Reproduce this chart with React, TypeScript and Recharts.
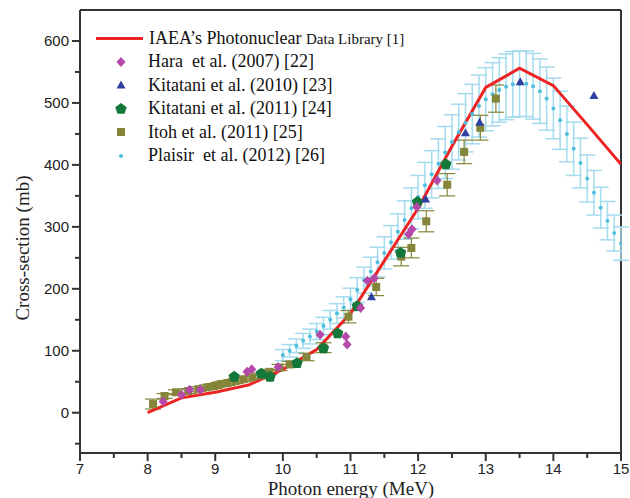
import {
  ComposedChart,
  Line,
  Scatter,
  ErrorBar,
  XAxis,
  YAxis,
  ReferenceLine,
} from "recharts";

// IAEA evaluated curve
const iaeaE = [8, 8.5, 9, 9.5, 10, 10.5, 11, 11.5, 12, 12.5, 13, 13.5, 14, 14.5, 15];
const iaeaXS = [0, 24, 33, 45, 70, 102, 160, 245, 330, 430, 525, 556, 528, 465, 401];

// Hara et al. (2007)
const haraE = [8.23, 8.5, 8.62, 8.78, 9.47, 9.54, 9.93, 10.55, 10.93, 10.95, 11.15, 11.25, 11.35, 11.86, 11.91, 11.98, 12.28];
const haraXS = [18, 29, 37, 37, 66, 70, 74, 126, 123, 110, 169, 213, 217, 288, 296, 332, 375];

// Kitatani et al. (2010)
const kit10E = [11.31, 12.11, 12.7, 12.91, 13.51, 14.6];
const kit10XS = [187, 345, 452, 469, 534, 512];

// Kitatani et al. (2011)
const kit11E = [9.28, 9.68, 9.81, 10.21, 10.6, 10.81, 11.1, 11.74, 11.99, 12.41];
const kit11XS = [58, 63, 58, 80, 104, 128, 172, 258, 340, 401];

// Itoh et al. (2011)
const itohE = [8.08, 8.25, 8.42, 8.6, 8.75, 8.88, 8.98, 9.08, 9.18, 9.3, 9.42, 9.55, 9.68, 9.8, 9.95, 10.1, 10.35, 10.6, 10.97, 11.38, 11.75, 11.9, 12.12, 12.43, 12.68, 12.92, 13.15];
const itohXS = [14, 27, 33, 35, 38, 41, 43, 46, 48, 51, 54, 57, 60, 66, 73, 78, 90, 105, 155, 203, 252, 266, 309, 368, 421, 460, 507];
const itohErr = [8, 4, 4, 4, 4, 4, 4, 4, 4, 4, 4, 4, 4, 4, 5, 5, 6, 8, 10, 14, 15, 16, 17, 18, 19, 20, 22];

// Plaisir et al. (2012)
const plaisirE = [
  10.0, 10.1, 10.2, 10.3, 10.4, 10.5, 10.6, 10.7, 10.8, 10.9,
  11.0, 11.1, 11.2, 11.3, 11.4, 11.5, 11.6, 11.7, 11.8, 11.9,
  12.0, 12.1, 12.2, 12.3, 12.4, 12.5, 12.6, 12.7, 12.8, 12.9,
  13.0, 13.1, 13.2, 13.3, 13.4, 13.5, 13.6, 13.7, 13.8, 13.9,
  14.0, 14.1, 14.2, 14.3, 14.4, 14.5, 14.6, 14.7, 14.8, 14.9, 15.0,
];
const plaisirXS = [
  93, 100, 108, 116, 123, 131, 140, 150, 160, 170,
  183, 198, 214, 228, 243, 258, 275, 292, 311, 330,
  348, 367, 385, 402, 420, 437, 453, 468, 482, 495,
  506, 514, 521, 526, 530, 531, 531, 527, 519, 507,
  491, 472, 450, 426, 403, 378, 355, 331, 310, 290, 273,
];
const plaisirErr = [
  9, 10, 11, 12, 12, 13, 14, 15, 16, 17,
  18, 20, 21, 23, 24, 26, 27, 29, 31, 33,
  35, 37, 38, 40, 42, 44, 45, 47, 48, 50,
  51, 51, 52, 53, 53, 53, 53, 53, 52, 51,
  49, 47, 45, 43, 40, 38, 36, 33, 31, 29, 27,
];

const xTicks = [7, 7.5, 8, 8.5, 9, 9.5, 10, 10.5, 11, 11.5, 12, 12.5, 13, 13.5, 14, 14.5, 15];
const yTicks = [-50, 0, 50, 100, 150, 200, 250, 300, 350, 400, 450, 500, 550, 600];

const zip = (xs: number[], ys: number[], errs?: number[]) =>
  xs.map((x, i) => ({ x, y: ys[i], err: errs ? errs[i] : 0 }));

const iaea = zip(iaeaE, iaeaXS);
const hara = zip(haraE, haraXS);
const kit10 = zip(kit10E, kit10XS);
const kit11 = zip(kit11E, kit11XS);
const itoh = zip(itohE, itohXS, itohErr);
const plaisir = zip(plaisirE, plaisirXS, plaisirErr);

const RED = "#ec2424";
const MAGENTA = "#b548a8";
const BLUE = "#2f40a0";
const GREEN = "#13783a";
const OLIVE = "#85853a";
const CYAN = "#4cbfdc";
const CYAN_BAR = "#a4dbee";
const AXIS = "#333";
const serif = "Liberation Serif";
const sans = "Liberation Sans";

const Diamond = ({ cx, cy }: any) => (
  <polygon points={`${cx},${cy - 5} ${cx + 4.5},${cy} ${cx},${cy + 5} ${cx - 4.5},${cy}`} fill={MAGENTA} />
);
const Triangle = ({ cx, cy }: any) => (
  <polygon points={`${cx},${cy - 4.5} ${cx + 4.5},${cy + 3.5} ${cx - 4.5},${cy + 3.5}`} fill={BLUE} />
);
const Pentagon = ({ cx, cy }: any) => {
  const pts = [0, 1, 2, 3, 4]
    .map((k) => {
      const a = -Math.PI / 2 + (k * 2 * Math.PI) / 5;
      return `${cx + 6 * Math.cos(a)},${cy + 6 * Math.sin(a)}`;
    })
    .join(" ");
  return <polygon points={pts} fill={GREEN} />;
};
const Square = ({ cx, cy }: any) => <rect x={cx - 4} y={cy - 4} width={8} height={8} fill={OLIVE} />;
const Dot = ({ cx, cy }: any) => <circle cx={cx} cy={cy} r={2} fill={CYAN} />;

const XTick = ({ x, y, payload }: any) => {
  const major = Number.isInteger(payload.value);
  return (
    <g>
      <line x1={x} y1={y} x2={x} y2={y + (major ? 8 : 5)} stroke={AXIS} strokeWidth={2} />
      {major && (
        <text x={x} y={y + 21} textAnchor="middle" style={{ fontFamily: sans, fontSize: 15 }} fill="#222">
          {payload.value}
        </text>
      )}
    </g>
  );
};

const YTick = ({ x, y, payload }: any) => {
  const major = payload.value % 100 === 0;
  return (
    <g>
      <line x1={x} y1={y} x2={x - (major ? 8 : 5)} y2={y} stroke={AXIS} strokeWidth={2} />
      {major && (
        <text x={x - 11} y={y} dy="0.36em" textAnchor="end" style={{ fontFamily: sans, fontSize: 15 }} fill="#222">
          {payload.value}
        </text>
      )}
    </g>
  );
};

const legendRows = [
  { label: "Hara  et al. (2007) [22]", shape: <Diamond cx={10} cy={10} /> },
  { label: "Kitatani et al. (2010) [23]", shape: <Triangle cx={10} cy={10} /> },
  { label: "Kitatani et al. (2011) [24]", shape: <Pentagon cx={10} cy={10} /> },
  { label: "Itoh et al. (2011) [25]", shape: <Square cx={10} cy={10} /> },
  { label: "Plaisir  et al. (2012) [26]", shape: <Dot cx={10} cy={10} /> },
];

const ChartLegend = () => (
  <div style={{ position: "absolute", left: 96, top: 26, fontFamily: serif, fontSize: 18, color: "#111" }}>
    <div style={{ display: "flex", alignItems: "center", height: 24 }}>
      <div style={{ width: 47, height: 3, background: RED, marginRight: 6 }} />
      <span style={{ whiteSpace: "pre" }}>
        IAEA’s Photonuclear <span style={{ fontSize: 15 }}>Data Library [1]</span>
      </span>
    </div>
    {legendRows.map((r) => (
      <div key={r.label} style={{ display: "flex", alignItems: "center", height: 23.5 }}>
        <svg width={20} height={20} style={{ marginLeft: 15, marginRight: 17 }}>
          {r.shape}
        </svg>
        <span style={{ whiteSpace: "pre" }}>{r.label}</span>
      </div>
    ))}
  </div>
);

export default function App() {
  return (
    <div style={{ position: "absolute", left: 0, top: 0, width: 630, height: 498, background: "#fff" }}>
      <ComposedChart width={630} height={498} margin={{ top: 10, right: 9, left: 0, bottom: 0 }}>
        <XAxis
          dataKey="x"
          type="number"
          domain={[7, 15]}
          ticks={xTicks}
          interval={0}
          tickSize={0}
          tickMargin={0}
          tick={<XTick />}
          axisLine={{ stroke: AXIS, strokeWidth: 2 }}
          height={45}
          allowDataOverflow
          label={{
            content: () => (
              <text x={351} y={495} textAnchor="middle" style={{ fontFamily: serif, fontSize: 19 }} fill="#222">
                Photon energy (MeV)
              </text>
            ),
          }}
        />
        <YAxis
          type="number"
          domain={[-65, 650]}
          ticks={yTicks}
          interval={0}
          tickSize={0}
          tickMargin={0}
          tick={<YTick />}
          axisLine={{ stroke: AXIS, strokeWidth: 2 }}
          width={80}
          allowDataOverflow
          label={{
            content: () => (
              <text
                x={22}
                y={248}
                transform="rotate(-90 22 248)"
                textAnchor="middle"
                dominantBaseline="central"
                style={{ fontFamily: serif, fontSize: 19 }}
                fill="#222"
              >
                Cross-section (mb)
              </text>
            ),
          }}
        />
        <ReferenceLine y={650} stroke={AXIS} strokeWidth={2} />
        <ReferenceLine x={15} stroke={AXIS} strokeWidth={2} />
        <Scatter data={plaisir} dataKey="y" shape={<Dot />} isAnimationActive={false}>
          <ErrorBar dataKey="err" direction="y" width={8} stroke={CYAN_BAR} strokeWidth={1.5} />
        </Scatter>
        <Scatter data={itoh} dataKey="y" shape={<Square />} isAnimationActive={false}>
          <ErrorBar dataKey="err" direction="y" width={8} stroke={OLIVE} strokeWidth={1.2} />
        </Scatter>
        <Scatter data={kit11} dataKey="y" shape={<Pentagon />} isAnimationActive={false} />
        <Scatter data={kit10} dataKey="y" shape={<Triangle />} isAnimationActive={false} />
        <Scatter data={hara} dataKey="y" shape={<Diamond />} isAnimationActive={false} />
        <Line
          data={iaea}
          dataKey="y"
          type="linear"
          stroke={RED}
          strokeWidth={3}
          dot={false}
          isAnimationActive={false}
        />
      </ComposedChart>
      <ChartLegend />
    </div>
  );
}
